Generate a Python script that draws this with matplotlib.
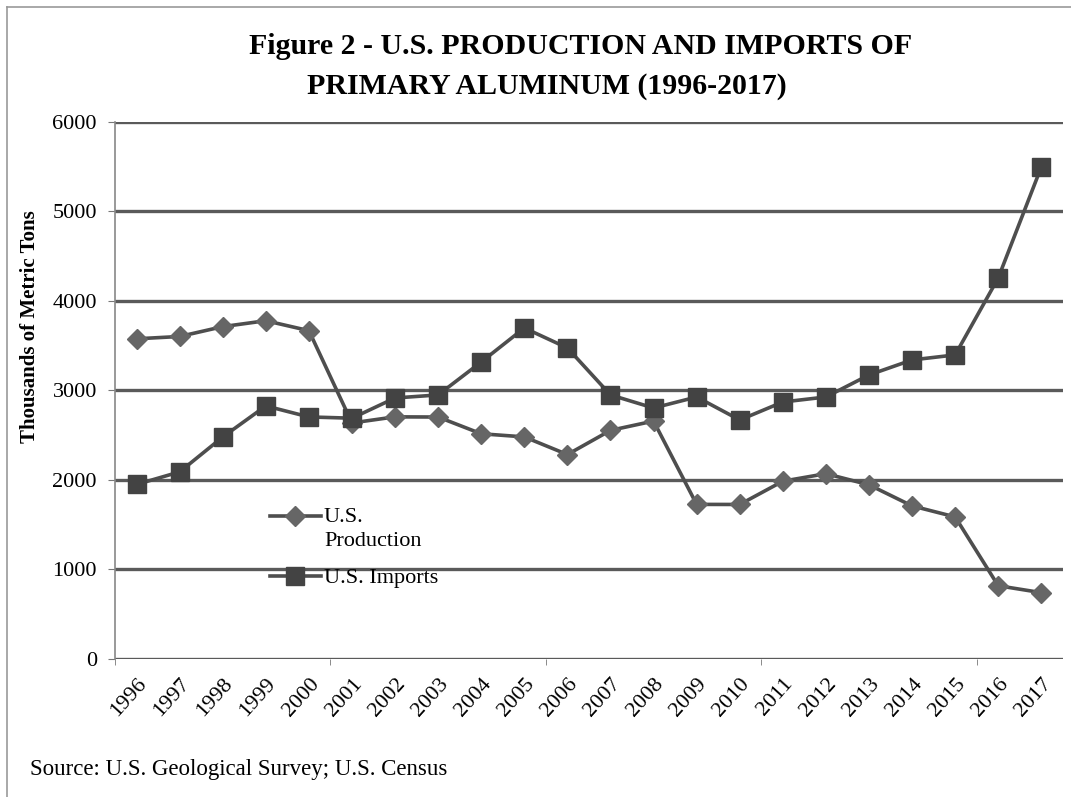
import matplotlib
matplotlib.use("Agg")
import matplotlib.pyplot as plt
from matplotlib.ticker import FixedLocator, NullFormatter

plt.rcParams['font.family'] = ['Liberation Serif', 'DejaVu Serif']

years = ["1996", "1997", "1998", "1999", "2000", "2001", "2002", "2003", "2004", "2005", "2006",
         "2007", "2008", "2009", "2010", "2011", "2012", "2013", "2014", "2015", "2016", "2017"]
production = [3577, 3603, 3713, 3779, 3668, 2637, 2705, 2703, 2516, 2481, 2284,
              2554, 2658, 1727, 1726, 1986, 2070, 1946, 1710, 1587, 818, 741]
imports = [1950, 2090, 2480, 2827, 2704, 2690, 2916, 2950, 3318, 3698, 3475,
           2950, 2804, 2927, 2670, 2871, 2927, 3173, 3341, 3397, 4257, 5497]

fig = plt.figure(figsize=(10.71, 7.97), dpi=100)
ax = fig.add_axes([0.1074, 0.1732, 0.885, 0.6738])

x = [i + 0.5 for i in range(len(years))]
line_col = "#4e4e4e"
ax.plot(x, production, color=line_col, lw=2.6, marker="D", ms=10,
        mfc="#666666", mec="#666666", label="U.S.\nProduction", zorder=3)
ax.plot(x, imports, color=line_col, lw=2.6, marker="s", ms=12.5,
        mfc="#434343", mec="#434343", label="U.S. Imports", zorder=3)

ax.set_xlim(0, len(years))
ax.set_ylim(0, 6000)
ax.set_yticks(range(0, 6001, 1000))
ax.grid(axis="y", color="#5a5a5a", lw=2.4)
ax.set_axisbelow(True)

ax.set_xticks(x)
ax.set_xticklabels(years, rotation=48, ha="right", va="top", rotation_mode="anchor")
ax.tick_params(axis="x", length=0, labelsize=16, pad=11)
ax.xaxis.set_minor_locator(FixedLocator([0, 5, 10, 15, 20]))
ax.xaxis.set_minor_formatter(NullFormatter())
ax.tick_params(axis="x", which="minor", length=4, color="#777777", direction="out")
ax.tick_params(axis="y", length=5, color="#777777", labelsize=16, pad=8)

for s in ["top", "right", "bottom"]:
    ax.spines[s].set_visible(False)
ax.spines["left"].set_color("#888888")
ax.spines["left"].set_linewidth(1.2)

ax.set_ylabel("Thousands of Metric Tons", fontsize=15, fontweight="bold")
ax.yaxis.set_label_coords(-0.079, 0.618)

leg = ax.legend(loc="upper left", bbox_to_anchor=(0.163, 0.282), frameon=False, fontsize=16,
                handlelength=2.3, handletextpad=0.15, labelspacing=0.75, borderaxespad=0,
                borderpad=0)
leg.get_texts()[0].set_linespacing(1.4)
# the reference keys the two-line label against its first line
h0 = leg.legend_handles[0]
h0.set_ydata([v + 9 for v in h0.get_ydata()])

fig.text(581 / 1071, 1 - 46 / 797, "Figure 2 - U.S. PRODUCTION AND IMPORTS OF",
         ha="center", va="center", fontsize=21.5, fontweight="bold")
fig.text(547 / 1071, 1 - 86 / 797, "PRIMARY ALUMINUM (1996-2017)",
         ha="center", va="center", fontsize=21.5, fontweight="bold")
fig.text(0.028, 0.034, "Source: U.S. Geological Survey; U.S. Census", fontsize=16.5,
         ha="left", va="center")

# outer frame (top and left edges visible in the reference)
fig.add_artist(plt.Line2D([0.007, 1.0], [0.991, 0.991], color="#999999", lw=1.2))
fig.add_artist(plt.Line2D([0.007, 0.007], [0.0, 0.991], color="#999999", lw=1.2))

fig.savefig("out.png", dpi=100)
